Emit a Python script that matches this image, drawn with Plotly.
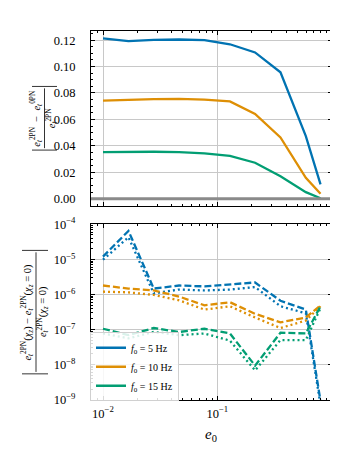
import plotly.graph_objects as go

W, H = 338, 450

# eccentricity grid
e0 = [0.01, 0.0167, 0.0278, 0.0463, 0.0772, 0.129, 0.214, 0.357, 0.595, 0.8]

# top panel: |(e2PN - e0PN)/e2PN|
top_5hz = [0.1213, 0.1193, 0.1203, 0.1205, 0.1201, 0.1169, 0.1107, 0.0957, 0.0474, 0.0108]
top_10hz = [0.0743, 0.0750, 0.0754, 0.0755, 0.0750, 0.0736, 0.0641, 0.0463, 0.0158, 0.0037]
top_15hz = [0.0353, 0.0355, 0.0355, 0.0353, 0.0343, 0.0324, 0.0272, 0.0170, 0.0049, 0.0003]

# bottom panel: spin effect, dashed / dotted per frequency
bot_5hz_dash = [1.2e-5, 6.5e-5, 1.47e-6, 1.8e-6, 1.7e-6, 1.94e-6, 2.2e-6, 6.6e-7, 3.7e-7, 9e-10]
bot_5hz_dot = [9.8e-6, 4.3e-5, 1.07e-6, 1.38e-6, 1.3e-6, 1.38e-6, 1.63e-6, 4.6e-7, 2.9e-7, 7e-10]
bot_10hz_dash = [1.8e-6, 1.47e-6, 1.3e-6, 8.7e-7, 4.9e-7, 6e-7, 2.8e-7, 1.6e-7, 2.2e-7, 4.9e-7]
bot_10hz_dot = [1.2e-6, 1.15e-6, 9.7e-7, 6.8e-7, 3.7e-7, 4.6e-7, 2.2e-7, 1.1e-7, 1.8e-7, 4.6e-7]
bot_15hz_dash = [1.05e-7, 6.9e-8, 1.1e-7, 8.5e-8, 1.05e-7, 7.7e-8, 9.3e-9, 8.1e-8, 7.7e-8, 4.6e-7]
bot_15hz_dot = [7.7e-8, 5.6e-8, 8.5e-8, 6.9e-8, 7.7e-8, 4.8e-8, 6.8e-9, 5e-8, 5e-8, 4.1e-7]

labels = ["<i>f</i><sub>0</sub> = 5 Hz", "<i>f</i><sub>0</sub> = 10 Hz", "<i>f</i><sub>0</sub> = 15 Hz"]
colors = ["#0173B2", "#DE8F05", "#029E73"]

x_ticks = [0.01, 0.1]
x_ticktext = ["10<sup>−2</sup>", "10<sup>−1</sup>"]
top_yticks = [0.0, 0.02, 0.04, 0.06, 0.08, 0.10, 0.12]
bot_yticks = [1e-9, 1e-8, 1e-7, 1e-6, 1e-5, 1e-4]
bot_ytext = ["10<sup>−9</sup>", "10<sup>−8</sup>", "10<sup>−7</sup>", "10<sup>−6</sup>",
             "10<sup>−5</sup>", "10<sup>−4</sup>"]

FONT = "Liberation Serif"
GRID = "#c8c8c8"


def px(x):
    return x / W


def py(y):
    return 1 - y / H


fig = go.Figure()

tops = [top_5hz, top_10hz, top_15hz]
dashes = [bot_5hz_dash, bot_10hz_dash, bot_15hz_dash]
dots = [bot_5hz_dot, bot_10hz_dot, bot_15hz_dot]

for i in range(3):
    fig.add_trace(go.Scatter(x=e0, y=tops[i], mode="lines", showlegend=False,
                             line=dict(color=colors[i], width=2.3), xaxis="x", yaxis="y"))
for i in range(3):
    fig.add_trace(go.Scatter(x=e0, y=dashes[i], mode="lines", showlegend=False,
                             line=dict(color=colors[i], width=2.3, dash="7px,3px"),
                             xaxis="x2", yaxis="y2"))
    fig.add_trace(go.Scatter(x=e0, y=dots[i], mode="lines", showlegend=False,
                             line=dict(color=colors[i], width=2.3, dash="2px,3px"),
                             xaxis="x2", yaxis="y2"))
# legend handles (solid)
for i in range(3):
    fig.add_trace(go.Scatter(x=[None], y=[None], mode="lines", name=labels[i],
                             line=dict(color=colors[i], width=2.5), xaxis="x2", yaxis="y2"))

axis_common = dict(showline=True, linecolor="black", linewidth=1, mirror="allticks",
                   ticks="inside", ticklen=4, tickwidth=1, tickcolor="black",
                   showgrid=True, gridcolor=GRID, gridwidth=1, zeroline=False,
                   tickfont=dict(family=FONT, size=12.5, color="black"))

xdom = [px(83), px(324)]
xrange_log = [-2.105, 0.0035]

fig.update_layout(
    width=W, height=H,
    margin=dict(l=0, r=0, t=0, b=0),
    paper_bgcolor="white", plot_bgcolor="white",
    font=dict(family=FONT, color="black"),
    xaxis=dict(axis_common, type="log", domain=xdom, range=xrange_log, anchor="y",
               tickvals=x_ticks, showticklabels=False,
               minor=dict(ticks="inside", ticklen=2, tickcolor="black", dtick="D1", showgrid=False)),
    yaxis=dict(axis_common, domain=[py(196), py(15)], range=[-0.0056, 0.1266], anchor="x",
               tickvals=top_yticks, tickformat=".2f", ticklabelstandoff=12,
               minor=dict(ticks="inside", ticklen=2, tickcolor="black", dtick=0.005, showgrid=False)),
    xaxis2=dict(axis_common, type="log", domain=xdom, range=xrange_log, anchor="y2",
                tickvals=x_ticks, ticktext=x_ticktext, ticklabelstandoff=2,
                minor=dict(ticks="inside", ticklen=2, tickcolor="black", dtick="D1", showgrid=False)),
    yaxis2=dict(axis_common, type="log", domain=[py(396.7), py(215)], range=[-9, -4], anchor="x2",
                tickvals=bot_yticks, ticktext=bot_ytext, ticklabelstandoff=12,
                minor=dict(ticks="inside", ticklen=2, tickcolor="black", dtick="D1", showgrid=False)),
    legend=dict(x=px(82), y=py(327), xanchor="left", yanchor="top",
                bgcolor="rgba(255,255,255,0.85)", bordercolor="#d0d0d0", borderwidth=1,
                font=dict(family=FONT, size=10), itemwidth=30, tracegroupgap=0),
)

# zero line in top panel
fig.add_shape(type="line", xref="x domain", yref="y", x0=0, x1=1, y0=0, y1=0,
              line=dict(color="#8a8a8a", width=3), layer="above")

# x label
fig.add_annotation(x=px(203), y=py(433), xref="paper", yref="paper", showarrow=False,
                   xanchor="center", yanchor="middle",
                   text="<i>e</i><sub>0</sub>", font=dict(family=FONT, size=15))


# y labels as rotated fractions: |num / den|
def frac_label(num, den, xn, xd, xb, xl, xr, y0, y1, size):
    yc = (y0 + y1) / 2
    for xx, txt in ((xn, num), (xd, den)):
        fig.add_annotation(x=px(xx), y=py(yc), xref="paper", yref="paper", showarrow=False,
                           xanchor="center", yanchor="middle",
                           textangle=-90, text=txt, font=dict(family=FONT, size=size))
    fig.add_shape(type="line", xref="paper", yref="paper", x0=px(xb), x1=px(xb),
                  y0=py(y0 + 2), y1=py(y1 - 2), line=dict(color="black", width=0.8))
    for yy in (y0, y1):
        fig.add_shape(type="line", xref="paper", yref="paper", x0=px(xl), x1=px(xr),
                      y0=py(yy), y1=py(yy), line=dict(color="black", width=0.8))


et = "<i>e</i><sub><i>t</i></sub>"
chi = "<i>χ</i><sub><i>z</i></sub>"
frac_label(et + "<sup>2PN</sup>  −  " + et + "<sup>0PN</sup>", et + "<sup>2PN</sup>",
           28.5, 44, 36.5, 24, 49, 72, 138, 10.5)
frac_label(et + "<sup>2PN</sup>(" + chi + ") − " + et + "<sup>2PN</sup>(" + chi + " = 0)",
           et + "<sup>2PN</sup>(" + chi + " = 0)",
           19.5, 35, 28, 14, 40, 242, 370, 10.5)

fig.write_html("out.html")
